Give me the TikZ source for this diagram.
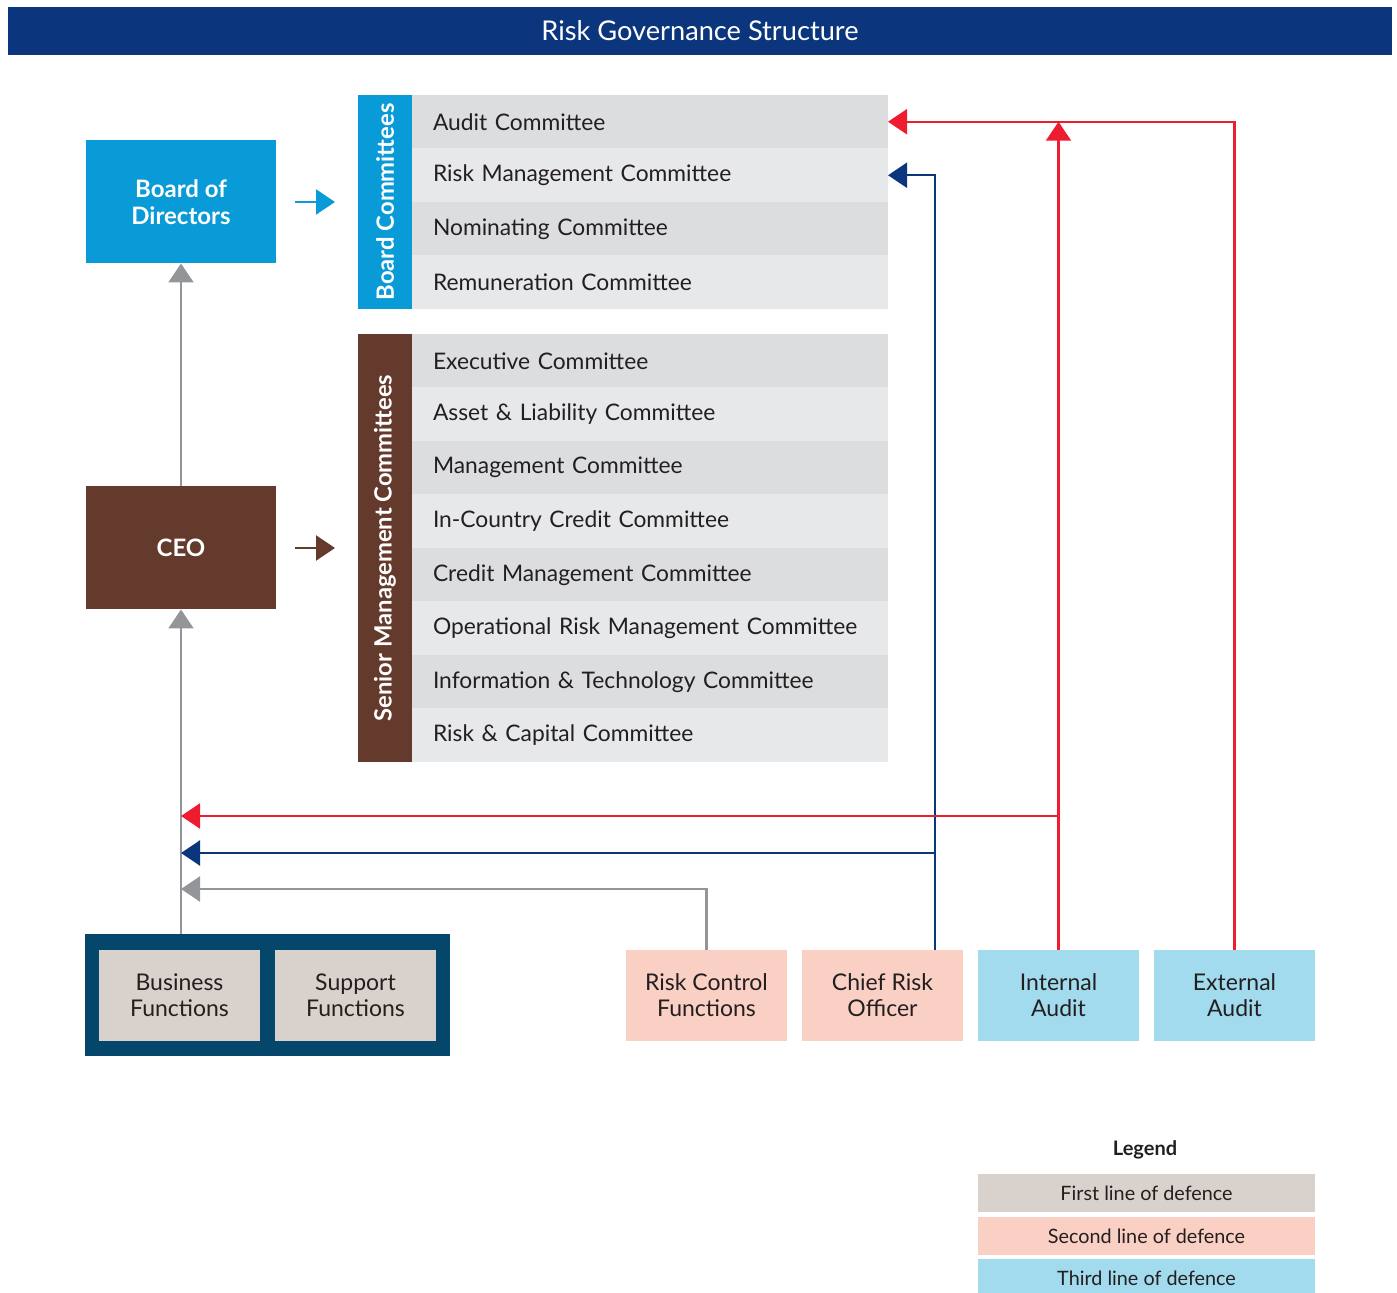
\documentclass[tikz,border=0pt]{standalone}
\usepackage{fontspec}
\setmainfont{Lato}
\usetikzlibrary{arrows.meta,positioning}

\definecolor{hdrblue}{RGB}{11,54,125}
\definecolor{boardblue}{RGB}{9,155,216}
\definecolor{ceobrown}{RGB}{99,58,44}
\definecolor{rowdark}{RGB}{220,221,223}
\definecolor{rowlight}{RGB}{231,232,234}
\definecolor{linegray}{RGB}{147,149,152}
\definecolor{linered}{RGB}{237,28,46}
\definecolor{contblue}{RGB}{5,70,107}
\definecolor{firstline}{RGB}{217,209,203}
\definecolor{secondline}{RGB}{250,208,196}
\definecolor{thirdline}{RGB}{162,219,238}
\definecolor{inkgray}{RGB}{35,31,32}

\begin{document}
\begin{tikzpicture}[x=0.5pt,y=-0.5pt,
  every node/.style={text=inkgray, inner sep=0pt, outer sep=0pt, font=\fontsize{11.5}{13}\selectfont},
  headbox/.style={minimum width=95pt, minimum height=61.5pt, align=center, text=white,
    font=\bfseries\fontsize{12}{13.5}\selectfont},
  sidebar/.style={rotate=90, minimum height=27pt, text=white,
    font=\bfseries\fontsize{11.9}{13}\selectfont},
  row/.style={minimum height=26.75pt, text width=217pt, inner xsep=10.5pt, align=left,
    font=\fontsize{11.4}{13}\selectfont},
  box/.style={minimum width=80.5pt, minimum height=45.5pt, align=center},
  key/.style={minimum width=168.5pt, minimum height=19pt, font=\fontsize{9.9}{11}\selectfont},
  feed/.style={line width=1.1pt, -{Triangle[length=9.5pt,width=12.5pt]}}]
\useasboundingbox (0,0) rectangle (1397,1293);

% Title bar
\node[fill=hdrblue, minimum width=692pt, minimum height=24pt, text=white,
  font=\fontsize{13.6}{15}\selectfont] (title) at (700,31) {Risk Governance Structure};

% Board and CEO
\node[headbox, fill=boardblue] (board) at (181,202) {Board of\\Directors};
\node[headbox, fill=ceobrown] (ceo) at (181,548) {CEO};

% Committee bars and their rows
\node[sidebar, fill=boardblue, minimum width=107pt] (bcbar) at (385,202) {Board Committees};
\node[sidebar, fill=ceobrown, minimum width=214pt] (smbar) at (385,548) {Senior Management Committees};

\foreach \txt/\tone [count=\i] in {Audit Committee/rowdark, Risk Management Committee/rowlight,
    Nominating Committee/rowdark, Remuneration Committee/rowlight}
  \node[row, fill=\tone] (bc\i) at (650,{68.25+53.5*\i}) {\txt};

\foreach \txt/\tone [count=\i] in {Executive Committee/rowdark, Asset \& Liability Committee/rowlight,
    Management Committee/rowdark, In-Country Credit Committee/rowlight,
    Credit Management Committee/rowdark, Operational Risk Management Committee/rowlight,
    Information \& Technology Committee/rowdark, Risk \& Capital Committee/rowlight}
  \node[row, fill=\tone] (sm\i) at (650,{307.25+53.5*\i}) {\txt};

% Functions at the bottom
\node[fill=contblue, minimum width=182.5pt, minimum height=61pt] (fnbox) at (267.5,995) {};
\node[box, fill=firstline] (bf) at (179.5,995.5) {Business\\Functions};
\node[box, fill=firstline, right=7.5pt of bf] (sf) {Support\\Functions};
\node[box, fill=secondline] (rcf) at (706.5,995.5) {Risk Control\\Functions};
\node[box, fill=secondline, right=7.5pt of rcf] (cro) {Chief Risk\\Officer};
\node[box, fill=thirdline, right=7.5pt of cro] (ia) {Internal\\Audit};
\node[box, fill=thirdline, right=7.5pt of ia] (ea) {External\\Audit};

% Levels of the reporting lines
\coordinate (redlevel) at (0,816);
\coordinate (bluelevel) at (0,853);
\coordinate (graylevel) at (0,889);
\coordinate (crotap) at ([xshift=26.25pt]cro.north);

% Reporting lines
\draw[feed, boardblue, shorten <=9.5pt, shorten >=11.5pt] (board) -- (bcbar);
\draw[feed, ceobrown, shorten <=9.5pt, shorten >=11.5pt] (ceo) -- (smbar);
\draw[feed, linegray] (ceo) -- (board);
\draw[feed, linegray] (ceo.south |- fnbox.north) -- (ceo.south);
\draw[feed, linegray] (rcf.north) |- (ceo |- graylevel);
\draw[feed, hdrblue] (crotap) |- (bc2.east);
\draw[feed, hdrblue] (crotap |- bluelevel) -- (ceo |- bluelevel);
\draw[feed, linered] (ia.north) -- (ia.north |- bc1.east);
\draw[feed, linered] (ia.north |- redlevel) -- (ceo |- redlevel);
\draw[feed, linered] (ea.north) |- (bc1.east);

% Legend
\node[font=\bfseries\fontsize{10}{11}\selectfont] (legend) at (1145,1150) {Legend};
\node[key, fill=firstline] (key1) at (1146.5,1193) {First line of defence};
\node[key, fill=secondline, below=2.5pt of key1] (key2) {Second line of defence};
\node[key, fill=thirdline, below=2pt of key2] (key3) {Third line of defence};
\end{tikzpicture}
\end{document}
